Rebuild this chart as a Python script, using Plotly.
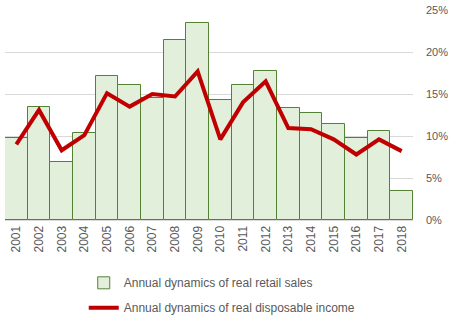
import plotly.graph_objects as go

years = [str(y) for y in range(2001, 2019)]
retail_sales = [9.8, 13.5, 6.9, 10.4, 17.2, 16.1, 14.5, 21.4, 23.5, 14.3,
                16.1, 17.7, 13.3, 12.7, 11.4, 9.8, 10.6, 3.5]
disposable_income = [9.0, 13.1, 8.3, 10.1, 15.1, 13.5, 15.0, 14.7, 17.7, 9.6,
                     14.0, 16.5, 10.95, 10.8, 9.6, 7.8, 9.6, 8.2]
y_ticks = [0, 5, 10, 15, 20, 25]
y_tick_labels = ["0%", "5%", "10%", "15%", "20%", "25%"]

font_family = "Liberation Sans, Arial, sans-serif"
gray = "#595959"

fig = go.Figure()
fig.add_trace(go.Bar(
    x=years, y=retail_sales,
    name="Annual dynamics of real retail sales",
    legendgroup="a",
    marker=dict(color="#e2efda", line=dict(color="#548235", width=1)),
))
fig.add_trace(go.Scatter(
    x=years, y=disposable_income, mode="lines",
    name="Annual dynamics of real disposable income",
    legendgroup="b",
    line=dict(color="#c00000", width=4),
))

fig.update_layout(
    width=454, height=322,
    margin=dict(l=5, r=41, t=10, b=102, autoexpand=False),
    paper_bgcolor="white", plot_bgcolor="white",
    bargap=0,
    font=dict(family=font_family, size=11, color=gray),
    showlegend=True,
    legend=dict(
        orientation="v", x=0.193, y=-0.23, xanchor="left", yanchor="top",
        font=dict(size=12, color=gray), tracegroupgap=6,
        bgcolor="rgba(0,0,0,0)",
    ),
    xaxis=dict(
        type="category", tickangle=-90, showgrid=False, automargin=False,
        tickfont=dict(size=12, color=gray), ticks="",
        showline=True, linecolor="#d9d9d9", linewidth=1,
    ),
    yaxis=dict(
        side="right", range=[0, 25], tickvals=y_ticks, ticktext=y_tick_labels,
        showgrid=True, gridcolor="#d9d9d9", gridwidth=1, automargin=False,
        zeroline=False, showline=False, ticks="",
        ticklabelstandoff=12,
        tickfont=dict(size=11, color=gray),
    ),
)

fig.write_html("out.html")
